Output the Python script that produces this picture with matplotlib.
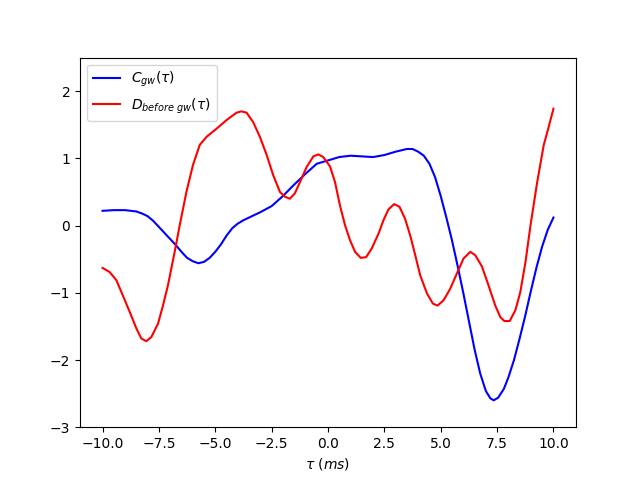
import matplotlib
matplotlib.use('Agg')
import matplotlib.pyplot as plt

# C_gw(tau)
tau_c = [-10, -9.5, -9, -8.5, -8.25, -8, -7.75, -7.5, -7.25, -7, -6.75,
         -6.5, -6.25, -6, -5.75, -5.5, -5.25, -5, -4.75, -4.5, -4.25, -4,
         -3.75, -3.5, -3, -2.5, -2, -1.5, -1, -0.5, 0, 0.5, 1, 1.5, 2, 2.5,
         3, 3.5, 3.75, 4, 4.25, 4.5, 4.75, 5, 5.25, 5.5, 5.75, 6, 6.25, 6.5,
         6.75, 7, 7.2, 7.35, 7.55, 7.8, 8, 8.25, 8.5, 8.75, 9, 9.25, 9.5,
         9.75, 10]
c_gw = [0.22, 0.23, 0.23, 0.21, 0.18, 0.14, 0.07, -0.02, -0.11, -0.20,
        -0.29, -0.39, -0.48, -0.53, -0.56, -0.54, -0.48, -0.39, -0.28,
        -0.15, -0.04, 0.03, 0.08, 0.12, 0.20, 0.29, 0.44, 0.61, 0.77, 0.92,
        0.97, 1.02, 1.04, 1.03, 1.02, 1.05, 1.10, 1.14, 1.14, 1.10, 1.04,
        0.92, 0.72, 0.44, 0.12, -0.22, -0.60, -1.00, -1.42, -1.84, -2.20,
        -2.46, -2.57, -2.60, -2.56, -2.43, -2.26, -2.00, -1.68, -1.34,
        -0.97, -0.62, -0.31, -0.06, 0.12]

# D_before gw(tau)
tau_d = [-10.0, -9.69, -9.39, -9.10, -8.80, -8.50, -8.28, -8.06, -7.84,
         -7.54, -7.32, -7.10, -6.80, -6.58, -6.28, -5.99, -5.69, -5.39,
         -4.95, -4.50, -4.06, -3.84, -3.61, -3.32, -3.02, -2.72, -2.43,
         -2.13, -1.91, -1.69, -1.47, -1.24, -0.95, -0.65, -0.43, -0.21,
         0.09, 0.31, 0.53, 0.76, 0.98, 1.20, 1.45, 1.69, 1.94, 2.24, 2.46,
         2.68, 2.93, 3.17, 3.42, 3.64, 3.87, 4.09, 4.39, 4.65, 4.86, 5.13,
         5.42, 5.72, 6.01, 6.31, 6.53, 6.83, 7.12, 7.42, 7.64, 7.82, 8.06,
         8.31, 8.53, 8.76, 8.98, 9.28, 9.57, 9.79, 10.0]
d_before = [-0.63, -0.69, -0.81, -1.04, -1.28, -1.53, -1.68, -1.72, -1.66,
            -1.46, -1.19, -0.89, -0.39, 0.0, 0.50, 0.90, 1.20, 1.32, 1.44,
            1.57, 1.68, 1.70, 1.68, 1.54, 1.32, 1.05, 0.75, 0.50, 0.43, 0.40,
            0.48, 0.65, 0.87, 1.03, 1.06, 1.02, 0.88, 0.65, 0.30, 0.0, -0.22,
            -0.39, -0.48, -0.47, -0.34, -0.12, 0.08, 0.24, 0.32, 0.28, 0.10,
            -0.14, -0.44, -0.74, -1.01, -1.16, -1.19, -1.11, -0.94, -0.71,
            -0.49, -0.39, -0.44, -0.61, -0.89, -1.19, -1.36, -1.42, -1.42,
            -1.26, -0.99, -0.54, 0.0, 0.65, 1.20, 1.47, 1.74]

fig, ax = plt.subplots(figsize=(6.4, 4.8), dpi=100)
ax.plot(tau_c, c_gw, color='blue', label=r'$C_{gw}(\tau)$')
ax.plot(tau_d, d_before, color='red', label=r'$D_{before\ gw}(\tau)$')
ax.set_ylim(-3, 2.5)
ax.set_xlabel(r'$\tau$ $(ms)$')
ax.legend(loc='upper left')
fig.savefig('out.png')
